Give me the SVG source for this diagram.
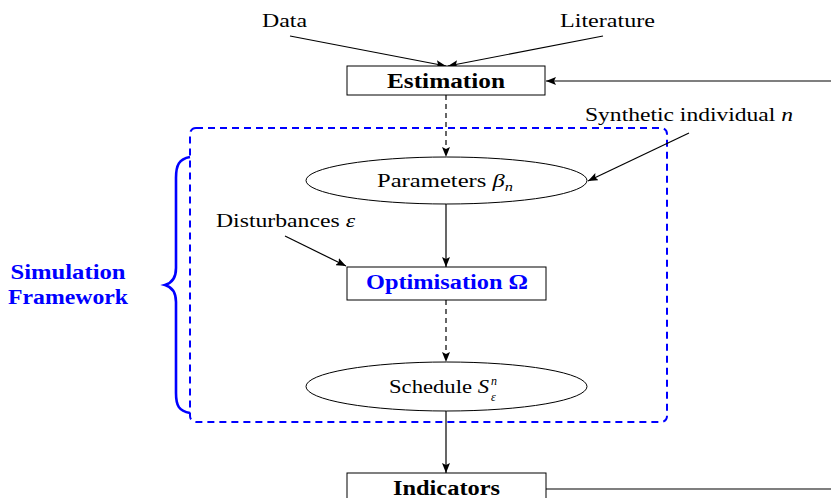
<svg xmlns="http://www.w3.org/2000/svg" width="831" height="498" viewBox="0 0 831 498">
<style>
text{font-family:'Liberation Serif','Times New Roman',serif;fill:#000}
.lbl{font-size:19.5px}
.b{font-weight:bold;font-size:20px}
.blue{fill:#0000ff}
.m{font-style:italic}
.box{fill:#fff;stroke:#000;stroke-width:1}
.conn{fill:none;stroke:#000;stroke-width:1.2}
.dash{stroke-dasharray:5 4}
</style>
<defs>
<marker id="ah" viewBox="0 0 10 8" refX="10" refY="4" markerWidth="10" markerHeight="8" markerUnits="userSpaceOnUse" orient="auto">
<path d="M0,0 L10,4 L0,8 L2,4 Z" fill="#000"/>
</marker>
</defs>
<rect width="831" height="498" fill="#fff"/>

<g id="framework">
<rect x="190" y="128" width="477" height="294" rx="6" fill="none" stroke="#0000ff" stroke-width="2" stroke-dasharray="7 5"/>
<path d="M190,157 C179,159 176,165 176,178 L176,268 C176,278 172,283 165,285 C172,287 176,292 176,302 L176,393 C176,406 179,411 190,413" fill="none" stroke="#0000ff" stroke-width="2.6"/>
<text class="b blue" x="68" y="279" text-anchor="middle" textLength="115" lengthAdjust="spacingAndGlyphs">Simulation</text>
<text class="b blue" x="68" y="304" text-anchor="middle" textLength="120" lengthAdjust="spacingAndGlyphs">Framework</text>
</g>

<g id="connectors">
<line class="conn" x1="290" y1="36" x2="446" y2="66" marker-end="url(#ah)"/>
<line class="conn" x1="603" y1="36" x2="448" y2="66" marker-end="url(#ah)"/>
<line class="conn" x1="831" y1="81" x2="546" y2="81" marker-end="url(#ah)"/>
<line class="conn dash" x1="446" y1="95" x2="446" y2="157" marker-end="url(#ah)"/>
<line class="conn" x1="689" y1="133" x2="588" y2="181" marker-end="url(#ah)"/>
<line class="conn" x1="446" y1="204" x2="446" y2="267" marker-end="url(#ah)"/>
<line class="conn" x1="285" y1="236" x2="346" y2="266" marker-end="url(#ah)"/>
<line class="conn dash" x1="446" y1="300" x2="446" y2="362" marker-end="url(#ah)"/>
<line class="conn" x1="446" y1="411" x2="446" y2="473" marker-end="url(#ah)"/>
<line class="conn" x1="546" y1="489" x2="831" y2="489"/>
</g>

<g id="data"><text class="lbl" x="262" y="27" textLength="45" lengthAdjust="spacingAndGlyphs">Data</text></g>
<g id="literature"><text class="lbl" x="560" y="27" textLength="95" lengthAdjust="spacingAndGlyphs">Literature</text></g>

<g id="estimation">
<rect class="box" x="347" y="66" width="198" height="29"/>
<text class="b" x="387" y="88" textLength="118" lengthAdjust="spacingAndGlyphs">Estimation</text>
</g>

<g id="synthetic"><text class="lbl" x="585" y="121" textLength="208" lengthAdjust="spacingAndGlyphs">Synthetic individual <tspan class="m">n</tspan></text></g>

<g id="parameters">
<ellipse class="box" cx="446.5" cy="180.5" rx="140.5" ry="23.5"/>
<text class="lbl" x="377" y="187" textLength="136" lengthAdjust="spacingAndGlyphs">Parameters <tspan class="m">β</tspan><tspan class="m" font-size="13" dy="4">n</tspan></text>
</g>

<g id="disturbances"><text class="lbl" x="216" y="227" textLength="139" lengthAdjust="spacingAndGlyphs">Disturbances <tspan class="m">ε</tspan></text></g>

<g id="optimisation">
<rect class="box" x="347" y="267" width="199" height="33"/>
<text class="b blue" x="366" y="289" textLength="162" lengthAdjust="spacingAndGlyphs">Optimisation Ω</text>
</g>

<g id="schedule">
<ellipse class="box" cx="446.5" cy="386.5" rx="140.5" ry="24.5"/>
<text class="lbl" x="389" y="393" textLength="100" lengthAdjust="spacingAndGlyphs">Schedule <tspan class="m">S</tspan></text>
<text class="m" x="491" y="385" font-size="12">n</text>
<text class="m" x="491" y="401" font-size="12">ε</text>
</g>

<g id="indicators">
<rect class="box" x="347" y="473" width="199" height="30"/>
<text class="b" x="393" y="495" textLength="107" lengthAdjust="spacingAndGlyphs">Indicators</text>
</g>
</svg>
